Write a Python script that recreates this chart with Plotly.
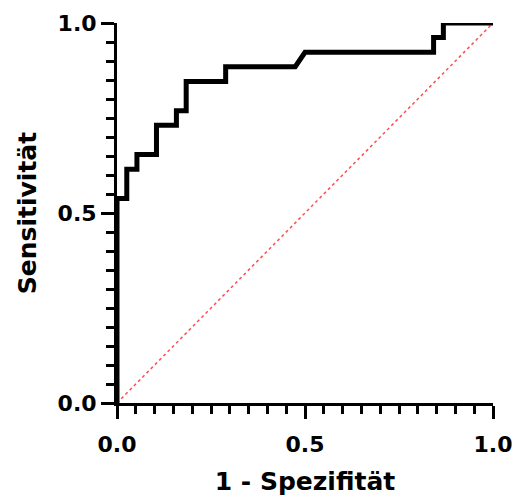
import plotly.graph_objects as go

# ROC curve vertices
fpr = [0, 0, 0.026, 0.026, 0.053, 0.053, 0.105, 0.105, 0.158, 0.158, 0.184, 0.184,
       0.289, 0.289, 0.474, 0.5, 0.842, 0.842, 0.868, 0.868, 1.0]
tpr = [0, 0.538, 0.538, 0.615, 0.615, 0.654, 0.654, 0.731, 0.731, 0.769, 0.769, 0.846,
       0.846, 0.885, 0.885, 0.923, 0.923, 0.962, 0.962, 1.0, 1.0]

# chance line
ref_x = [0, 1]
ref_y = [0, 1]

tick_vals = [0, 0.5, 1.0]
tick_text = ["0.0", "0.5", "1.0"]

FONT = "DejaVu Sans"

fig = go.Figure()
fig.add_trace(go.Scatter(x=ref_x, y=ref_y, mode="lines",
                         line=dict(color="#ff4d4d", width=1.5, dash="dot"),
                         hoverinfo="skip", showlegend=False))
fig.add_trace(go.Scatter(x=fpr, y=tpr, mode="lines",
                         line=dict(color="black", width=5),
                         cliponaxis=False, showlegend=False))

axis_common = dict(
    range=[0, 1], showgrid=False, zeroline=False, automargin=False,
    showline=True, linecolor="black", linewidth=3,
    ticks="outside", ticklen=13, tickwidth=3, tickcolor="black",
    tickvals=tick_vals, ticktext=tick_text, ticklabeloverflow="allow",
    minor=dict(ticks="outside", dtick=0.05, tick0=0, ticklen=8, tickwidth=3,
               tickcolor="black", showgrid=False),
    tickfont=dict(family=FONT, size=22, color="black", weight="bold"),
)

fig.update_xaxes(**axis_common, ticklabelstandoff=7,
                 title=dict(text="1 - Spezifität", standoff=17,
                            font=dict(family=FONT, size=25, color="black", weight="bold")))
fig.update_yaxes(**axis_common,
                 title=dict(text="Sensitivität", standoff=14,
                            font=dict(family=FONT, size=25, color="black", weight="bold")))

fig.update_layout(
    width=514, height=500,
    margin=dict(l=117, r=21, t=23, b=97),
    paper_bgcolor="white", plot_bgcolor="white",
    showlegend=False,
)

# remove the default page margin so the figure fills the 514x500 window
fig.write_html("out.html", config={"displayModeBar": False},
               post_script="document.body.style.margin='0px';")
